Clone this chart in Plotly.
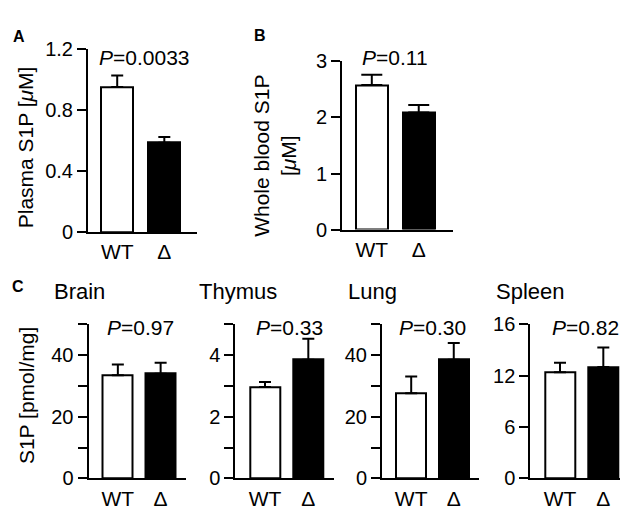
import plotly.graph_objects as go

W, H = 628, 513

groups = ["WT", "Δ"]

plasma_mean = [0.953, 0.587]
plasma_err = [0.075, 0.037]
blood_mean = [2.58, 2.09]
blood_err = [0.18, 0.13]

tissues = ["Brain", "Thymus", "Lung", "Spleen"]
tissue_mean = [[33.5, 34.0], [2.97, 3.85], [27.6, 38.5], [12.4, 13.0]]
tissue_err = [[3.5, 3.5], [0.16, 0.68], [5.5, 5.4], [1.1, 2.3]]
tissue_p = ["0.97", "0.33", "0.30", "0.82"]
plasma_p = "0.0033"
blood_p = "0.11"

plasma_ticks = [0, 0.4, 0.8, 1.2]
plasma_ticktext = ["0", "0.4", "0.8", "1.2"]
blood_ticks = [0, 1, 2, 3]
blood_ticktext = ["0", "1", "2", "3"]
tissue_ticks = [[0, 10, 20, 30, 40, 50], [0, 1, 2, 3, 4, 5], [0, 10, 20, 30, 40, 50], [0, 6, 12, 18]]
tissue_ticktext = [["0", "", "20", "", "40", ""], ["0", "", "2", "", "4", ""],
                   ["0", "", "20", "", "40", ""], ["0", "6", "12", "16"]]
tissue_ymax = [50, 5, 50, 18]

FONT = "Liberation Sans, Arial, Helvetica, sans-serif"
FS = 21

fig = go.Figure()


def px_x(x):
    return x / W


def px_y(y):
    return 1 - y / H


panels = [
    dict(x=(80, 189.3), y=(31.7, 222.7), xr=(-0.62, 1.70), bw=0.68, ew=6),
    dict(x=(334, 445), y=(44.3, 220), xr=(-0.635, 1.73), bw=0.68, ew=10.5),
    dict(x=(80.5, 178), y=(319, 480), xr=(-0.686, 1.593), bw=0.70, ew=6),
    dict(x=(227.3, 326), y=(319, 480), xr=(-0.686, 1.593), bw=0.70, ew=6),
    dict(x=(374, 471), y=(319, 480), xr=(-0.686, 1.593), bw=0.70, ew=6),
    dict(x=(522.3, 621), y=(319, 480), xr=(-0.686, 1.593), bw=0.70, ew=6),
]

means = [plasma_mean, blood_mean] + tissue_mean
errs = [plasma_err, blood_err] + tissue_err
ticks = [plasma_ticks, blood_ticks] + tissue_ticks
ticktexts = [plasma_ticktext, blood_ticktext] + tissue_ticktext
ymaxs = [1.2, 3] + tissue_ymax

for i, p in enumerate(panels):
    n = "" if i == 0 else str(i + 1)
    fig.add_trace(go.Bar(
        x=[0, 1], y=means[i], width=p["bw"],
        marker=dict(color=["white", "black"], line=dict(color="black", width=2)),
        error_y=dict(type="data", array=errs[i], arrayminus=[0, 0], symmetric=False,
                     color="black", thickness=2, width=p["ew"]),
        xaxis="x" + n, yaxis="y" + n, showlegend=False, hoverinfo="skip",
    ))
    fig.update_layout(**{
        "xaxis" + n: dict(domain=[px_x(p["x"][0]), px_x(p["x"][1])], range=list(p["xr"]),
                          anchor="y" + n, showline=True, linecolor="black", linewidth=2,
                          tickvals=[0, 1], ticktext=groups, ticks="", showgrid=False,
                          zeroline=False, fixedrange=True,
                          tickfont=dict(family=FONT, size=FS, color="black")),
        "yaxis" + n: dict(domain=[px_y(p["y"][1]), px_y(p["y"][0])], range=[0, ymaxs[i]],
                          anchor="x" + n, showline=True, linecolor="black", linewidth=2,
                          tickvals=ticks[i], ticktext=ticktexts[i], ticks="outside",
                          ticklen=9, tickwidth=2, tickcolor="black", showgrid=False,
                          zeroline=False, fixedrange=True,
                          tickfont=dict(family=FONT, size=FS - 1, color="black")),
    })

ann = []


def add_text(x, y, text, size=FS, xanchor="center", angle=0):
    ann.append(dict(x=px_x(x), y=px_y(y), xref="paper", yref="paper", text=text,
                    showarrow=False, xanchor=xanchor, yanchor="middle", textangle=angle,
                    font=dict(family=FONT, size=size, color="black")))


add_text(10.5, 18, "<b>A</b>", size=16)
add_text(252, 17.5, "<b>B</b>", size=16)
add_text(10, 279.5, "<b>C</b>", size=16)

add_text(17, 134, "Plasma S1P [<i>μ</i>M]", angle=-90)
add_text(267, 143, "Whole blood S1P<br>[<i>μ</i>M]", angle=-90)
add_text(18, 394, "S1P [pmol/mg]", angle=-90)

add_text(136, 40, "<i>P</i>=" + plasma_p)
add_text(387, 40, "<i>P</i>=" + blood_p)
p_x = [132, 281.5, 424, 577.5]
for xx, pv in zip(p_x, tissue_p):
    add_text(xx, 322.5, "<i>P</i>=" + pv)

t_x = [44, 189, 337.5, 486]
for xx, t in zip(t_x, tissues):
    add_text(xx, 285, t, size=22, xanchor="left")

fig.update_layout(
    width=W, height=H, margin=dict(l=0, r=0, t=0, b=0),
    paper_bgcolor="white", plot_bgcolor="white",
    annotations=ann, bargap=0,
    font=dict(family=FONT, color="black"),
)

fig.write_html("out.html")
